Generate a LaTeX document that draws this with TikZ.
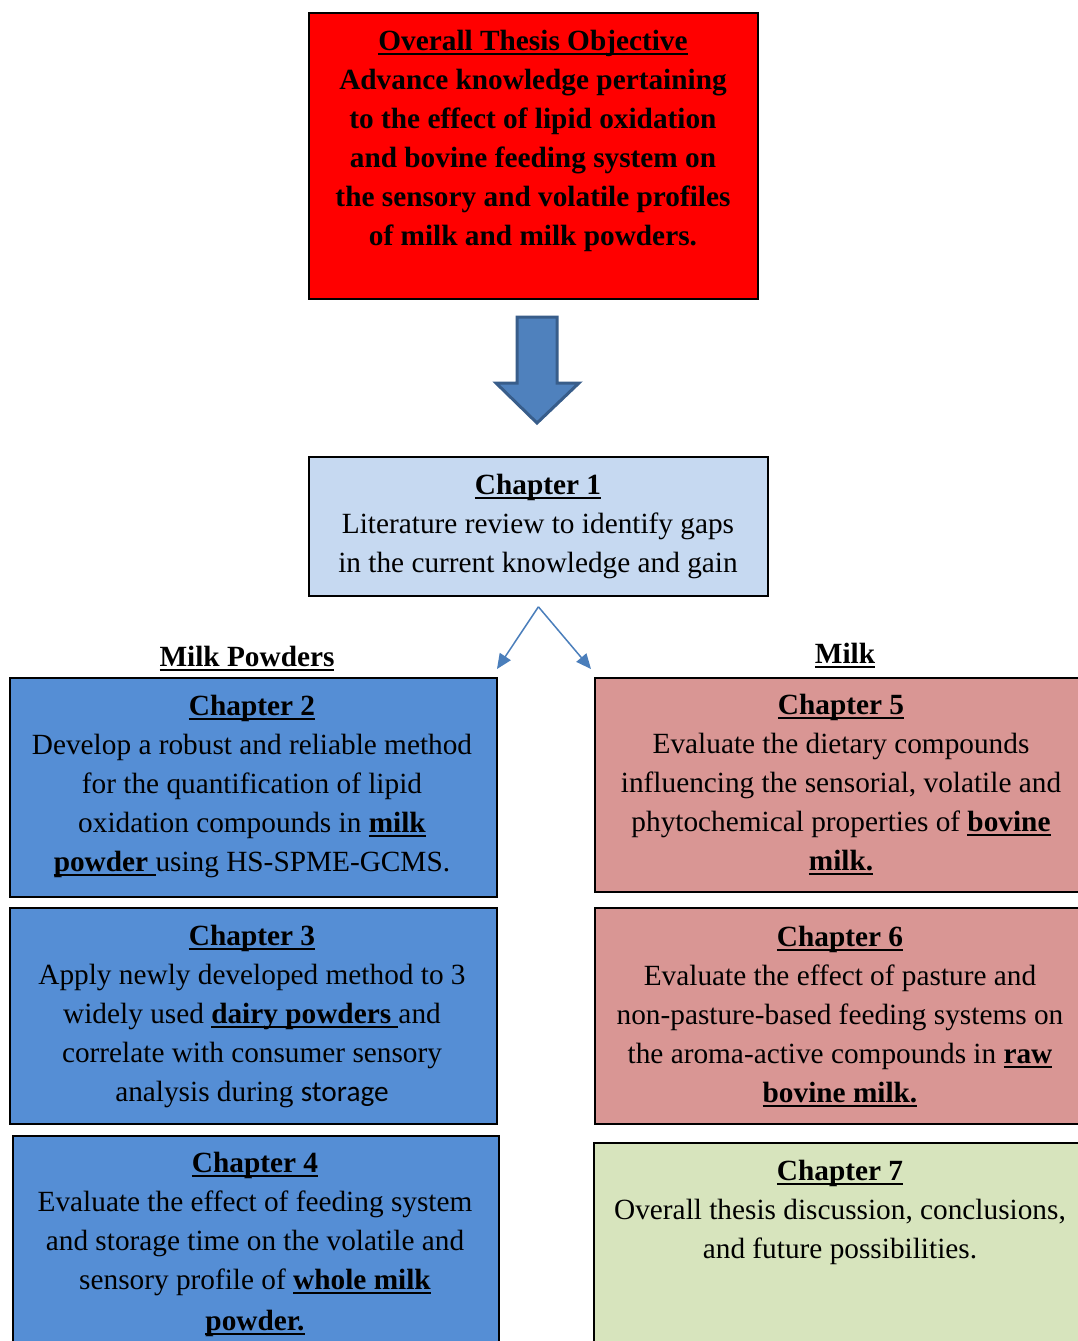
\documentclass[tikz,border=0pt]{standalone}
\usepackage{fontspec}
\setmainfont{Liberation Serif}
\newfontfamily\calibrifont{Carlito}
\usetikzlibrary{arrows.meta}
\definecolor{objred}{HTML}{FF0000}
\definecolor{chonefill}{HTML}{C6D9F1}
\definecolor{bluefill}{HTML}{558ED5}
\definecolor{pinkfill}{HTML}{D99694}
\definecolor{greenfill}{HTML}{D7E4BD}
\definecolor{arrowfill}{HTML}{4F81BD}
\definecolor{arrowedge}{HTML}{385D8A}
\definecolor{linkblue}{HTML}{4A7EBB}
\newsavebox\myulbox
\newcommand\myul[1]{\leavevmode\sbox\myulbox{#1}\rlap{\rule[-4.5pt]{\wd\myulbox}{2pt}}\usebox\myulbox}
\newcommand\bodyfont{\fontsize{29.3}{39}\selectfont}
\begin{document}
\begin{tikzpicture}[x=1pt,y=-1pt,
  chbox/.style={draw=black, line width=1.8pt, anchor=north west, inner sep=0pt},
  chtext/.style={text width=700pt, align=flush center, anchor=base, inner sep=0pt,
    font=\bodyfont},
  headtext/.style={anchor=base, inner sep=0pt, font=\bodyfont\bfseries},
  link/.style={draw=linkblue, line width=1.5pt, -{Triangle[length=15pt,width=13pt]}},
  blockarrow/.style={fill=arrowfill, draw=arrowedge, line width=3pt, line join=miter}
]
\useasboundingbox (0,0) rectangle (1078,1341);
\clip (0,0) rectangle (1078,1341);
\fill[white] (0,0) rectangle (1078,1341);

% boxes
\node[chbox, fill=objred, minimum width=449pt, minimum height=286pt] (obj) at (308,12) {};
\node[chbox, fill=chonefill, minimum width=459pt, minimum height=139pt] (ch1) at (308,456) {};
\node[chbox, fill=bluefill, minimum width=487pt, minimum height=219pt] (ch2) at (9,677) {};
\node[chbox, fill=bluefill, minimum width=487pt, minimum height=216pt] (ch3) at (9,907) {};
\node[chbox, fill=bluefill, minimum width=486pt, minimum height=230pt] (ch4) at (12,1135) {};
\node[chbox, fill=pinkfill, minimum width=494pt, minimum height=214pt] (ch5) at (594,677) {};
\node[chbox, fill=pinkfill, minimum width=494pt, minimum height=216pt] (ch6) at (594,907) {};
\node[chbox, fill=greenfill, minimum width=495pt, minimum height=220pt] (ch7) at (593,1142) {};

% block arrow between objective and chapter 1
\draw[blockarrow] (517,317) -- (557,317) -- (557,383) -- (579,383) -- (537,423)
  -- (496,383) -- (517,383) -- cycle;

% texts
\node[chtext, font=\bodyfont\bfseries] (objt) at (533,50)
  {\myul{Overall Thesis Objective}\\Advance knowledge pertaining\\to the effect of lipid oxidation\\and bovine feeding system on\\the sensory and volatile profiles\\of milk and milk powders.};
\node[chtext] (ch1t) at (538,494)
  {\myul{\textbf{Chapter 1}}\\Literature review to identify gaps\\in the current knowledge and gain};
\node[chtext] (ch2t) at (252,715)
  {\myul{\textbf{Chapter 2}}\\Develop a robust and reliable method\\for the quantification of lipid\\oxidation compounds in \myul{\textbf{milk}}\\\myul{\textbf{powder }}using HS-SPME-GCMS.};
\node[chtext] (ch3t) at (252,945)
  {\myul{\textbf{Chapter 3}}\\Apply newly developed method to 3\\widely used \myul{\textbf{dairy powders }}and\\correlate with consumer sensory\\analysis during {\calibrifont storage}};
\node[chtext] (ch4t) at (255,1172)
  {\myul{\textbf{Chapter 4}}\\Evaluate the effect of feeding system\\and storage time on the volatile and\\sensory profile of \myul{\textbf{whole milk}}\\[2pt]\myul{\textbf{powder.}}};
\node[chtext] (ch5t) at (841,714)
  {\myul{\textbf{Chapter 5}}\\Evaluate the dietary compounds\\influencing the sensorial, volatile and\\phytochemical properties of \myul{\textbf{bovine}}\\\myul{\textbf{milk.}}};
\node[chtext] (ch6t) at (840,946)
  {\myul{\textbf{Chapter 6}}\\Evaluate the effect of pasture and\\non-pasture-based feeding systems on\\the aroma-active compounds in \myul{\textbf{raw}}\\\myul{\textbf{bovine milk.}}};
\node[chtext] (ch7t) at (840,1180)
  {\myul{\textbf{Chapter 7}}\\Overall thesis discussion, conclusions,\\and future possibilities.};

\node[headtext] (powders) at (247,666) {\myul{Milk Powders}};
\node[headtext] (milk) at (845,663) {\myul{Milk}};

% split arrows
\coordinate (fork) at ([yshift=-10pt]ch1.south);
\coordinate (tipL) at (497,669);
\coordinate (tipR) at (591,669);
\draw[link] (fork) -- (tipL);
\draw[link] (fork) -- (tipR);
\end{tikzpicture}
\end{document}
